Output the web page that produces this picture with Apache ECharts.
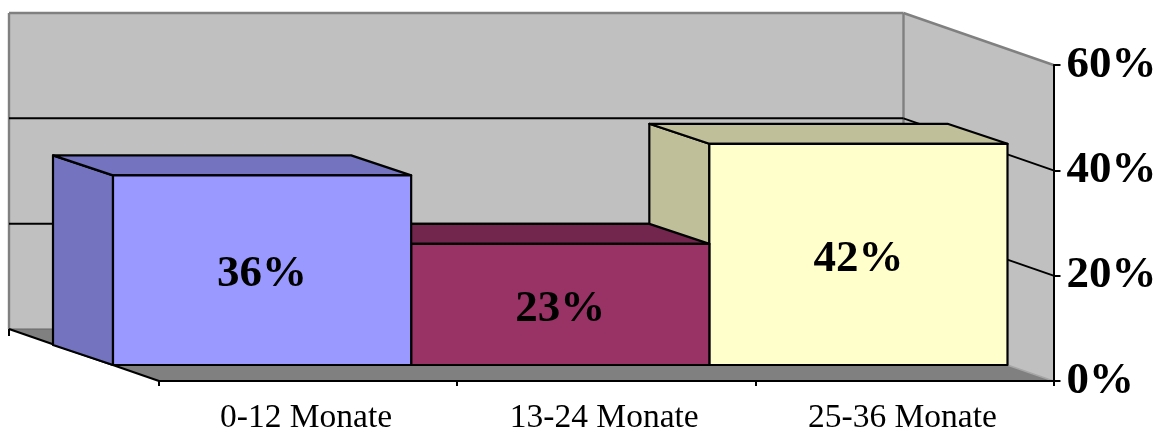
<!DOCTYPE html>
<html>
<head>
<meta charset="utf-8">
<style>html,body{margin:0;padding:0;background:#fff}#chart{width:1163px;height:434px}</style>
<script src="https://cdn.jsdelivr.net/npm/echarts@6/dist/echarts.min.js"></script>
</head>
<body>
<div id="chart"></div>
<script>
const categories = ['0-12 Monate', '13-24 Monate', '25-36 Monate'];
const shares = [36, 23, 42];
const ticks = [0, 20, 40, 60];
const faceColors = ['#9999FF', '#993366', '#FFFFCC'];
const shadeColors = ['#7373BF', '#73264D', '#BFBF99'];

// Oblique projection: how far the back of the floor and the bars recede on screen
const FLOOR_DEPTH = [-150, -52];
const BAR_FRONT = [-46, -16];
const BAR_DEPTH = [-60, -20];

const INK = '#000';
const WALL_EDGE = '#808080';

const shift = (p, d) => [p[0] + d[0], p[1] + d[1]];

function poly(points, fill, stroke, lineWidth, z2) {
  return {
    type: 'polygon', z2: z2 || 0,
    shape: { points },
    style: { fill: fill, stroke: stroke || null, lineWidth: lineWidth || 0, lineJoin: 'round' }
  };
}
function line(a, b, stroke, lineWidth, z2) {
  return {
    type: 'line', z2: z2 || 0,
    shape: { x1: a[0], y1: a[1], x2: b[0], y2: b[1] },
    style: { stroke, lineWidth }
  };
}

// Back wall, side wall and floor of the plot box
function renderBox(params, api) {
  const r = params.coordSys;
  const y0 = api.coord([0, ticks[0]])[1];
  const yTop = api.coord([0, ticks[ticks.length - 1]])[1];
  const fl = [r.x, y0], fr = [r.x + r.width, y0];
  const tr = [r.x + r.width, yTop];
  const bl = shift(fl, FLOOR_DEPTH), br = shift(fr, FLOOR_DEPTH);
  const tbl = shift([r.x, yTop], FLOOR_DEPTH), tbr = shift(tr, FLOOR_DEPTH);
  return {
    type: 'group',
    children: [
      poly([tbl, tbr, br, bl], '#C0C0C0'),
      poly([tbr, tr, fr, br], '#C0C0C0'),
      poly([bl, br, fr, fl], '#808080'),
      line(bl, tbl, WALL_EDGE, 2.4),
      line(tbl, tbr, WALL_EDGE, 2.4),
      line(tbr, br, WALL_EDGE, 2.4),
      line(tbr, tr, WALL_EDGE, 2.4),
      line(br, fr, '#A6A6A6', 1.5),
      line(bl, br, '#666', 1),
      line(bl, fl, INK, 2.2),
      line(bl, [bl[0], bl[1] + 7], INK, 2)
    ]
  };
}

// Gridlines run along the back wall and come forward on the side wall
function renderGrid(params, api) {
  const r = params.coordSys;
  const y = api.coord([0, api.value(0)])[1];
  const left = shift([r.x, y], FLOOR_DEPTH);
  const corner = shift([r.x + r.width, y], FLOOR_DEPTH);
  return {
    type: 'group',
    children: [
      line(left, corner, INK, 2),
      line(corner, [r.x + r.width, y], INK, 2)
    ]
  };
}

function renderBar(params, api) {
  const i = api.value(0), v = api.value(1);
  const band = api.size([1, 0])[0];
  const cx = api.coord([i, 0])[0] + BAR_FRONT[0];
  const yBase = api.coord([i, 0])[1] + BAR_FRONT[1];
  const yTop = api.coord([i, v])[1] + BAR_FRONT[1];
  const x0 = cx - band / 2, x1 = cx + band / 2;
  const fbl = [x0, yBase], fbr = [x1, yBase], ftl = [x0, yTop], ftr = [x1, yTop];
  const bbl = shift(fbl, BAR_DEPTH), btl = shift(ftl, BAR_DEPTH), btr = shift(ftr, BAR_DEPTH);
  // Bars nearer the left paint over the ones to their right, hiding what they block
  const z = categories.length - i;
  return {
    type: 'group',
    children: [
      poly([btl, ftl, fbl, bbl], shadeColors[i], INK, 2.2, z),
      poly([btl, btr, ftr, ftl], shadeColors[i], INK, 2.2, z),
      poly([ftl, ftr, fbr, fbl], faceColors[i], INK, 2.2, z),
      {
        type: 'text', z2: 200,
        style: {
          text: v + '%', x: cx, y: (yTop + yBase) / 2 + 4.5,
          align: 'center', verticalAlign: 'middle',
          font: 'bold 45px "Liberation Serif"', fill: INK
        }
      }
    ]
  };
}

const chart = echarts.init(document.getElementById('chart'), null, { renderer: 'canvas' });
chart.setOption({
  animation: false,
  backgroundColor: '#fff',
  grid: { left: 159, top: 65, width: 894.5, height: 316, containLabel: false, outerBoundsMode: 'none' },
  xAxis: {
    type: 'category',
    data: categories,
    z: 10,
    axisLine: { lineStyle: { color: INK, width: 2 } },
    axisTick: { show: true, alignWithLabel: false, length: 5, lineStyle: { color: INK, width: 2 } },
    axisLabel: {
      color: INK, fontFamily: 'Liberation Serif', fontSize: 33.5, margin: 20, interval: 0,
      padding: [0, 4, 0, 0]
    },
    splitLine: { show: false }
  },
  yAxis: {
    type: 'value',
    position: 'right',
    min: 0, max: 60, interval: 20,
    z: 10,
    axisLine: { show: true, lineStyle: { color: INK, width: 2 } },
    axisTick: { show: true, length: 7, lineStyle: { color: INK, width: 2 } },
    axisLabel: {
      formatter: '{value}%', color: INK, fontFamily: 'Liberation Serif',
      fontWeight: 'bold', fontSize: 45, margin: 13, padding: [11, 0, 0, 0]
    },
    splitLine: { show: false }
  },
  series: [
    { type: 'custom', z: 1, silent: true, clip: false, renderItem: renderBox, data: [0] },
    { type: 'custom', z: 2, silent: true, clip: false, renderItem: renderGrid,
      data: ticks.slice(1, -1).map(t => [t]), encode: { y: 0 } },
    { type: 'custom', z: 3, silent: true, clip: false, renderItem: renderBar,
      data: shares.map((v, i) => [i, v]), encode: { x: 0, y: 1 } }
  ]
});
</script>
</body>
</html>
